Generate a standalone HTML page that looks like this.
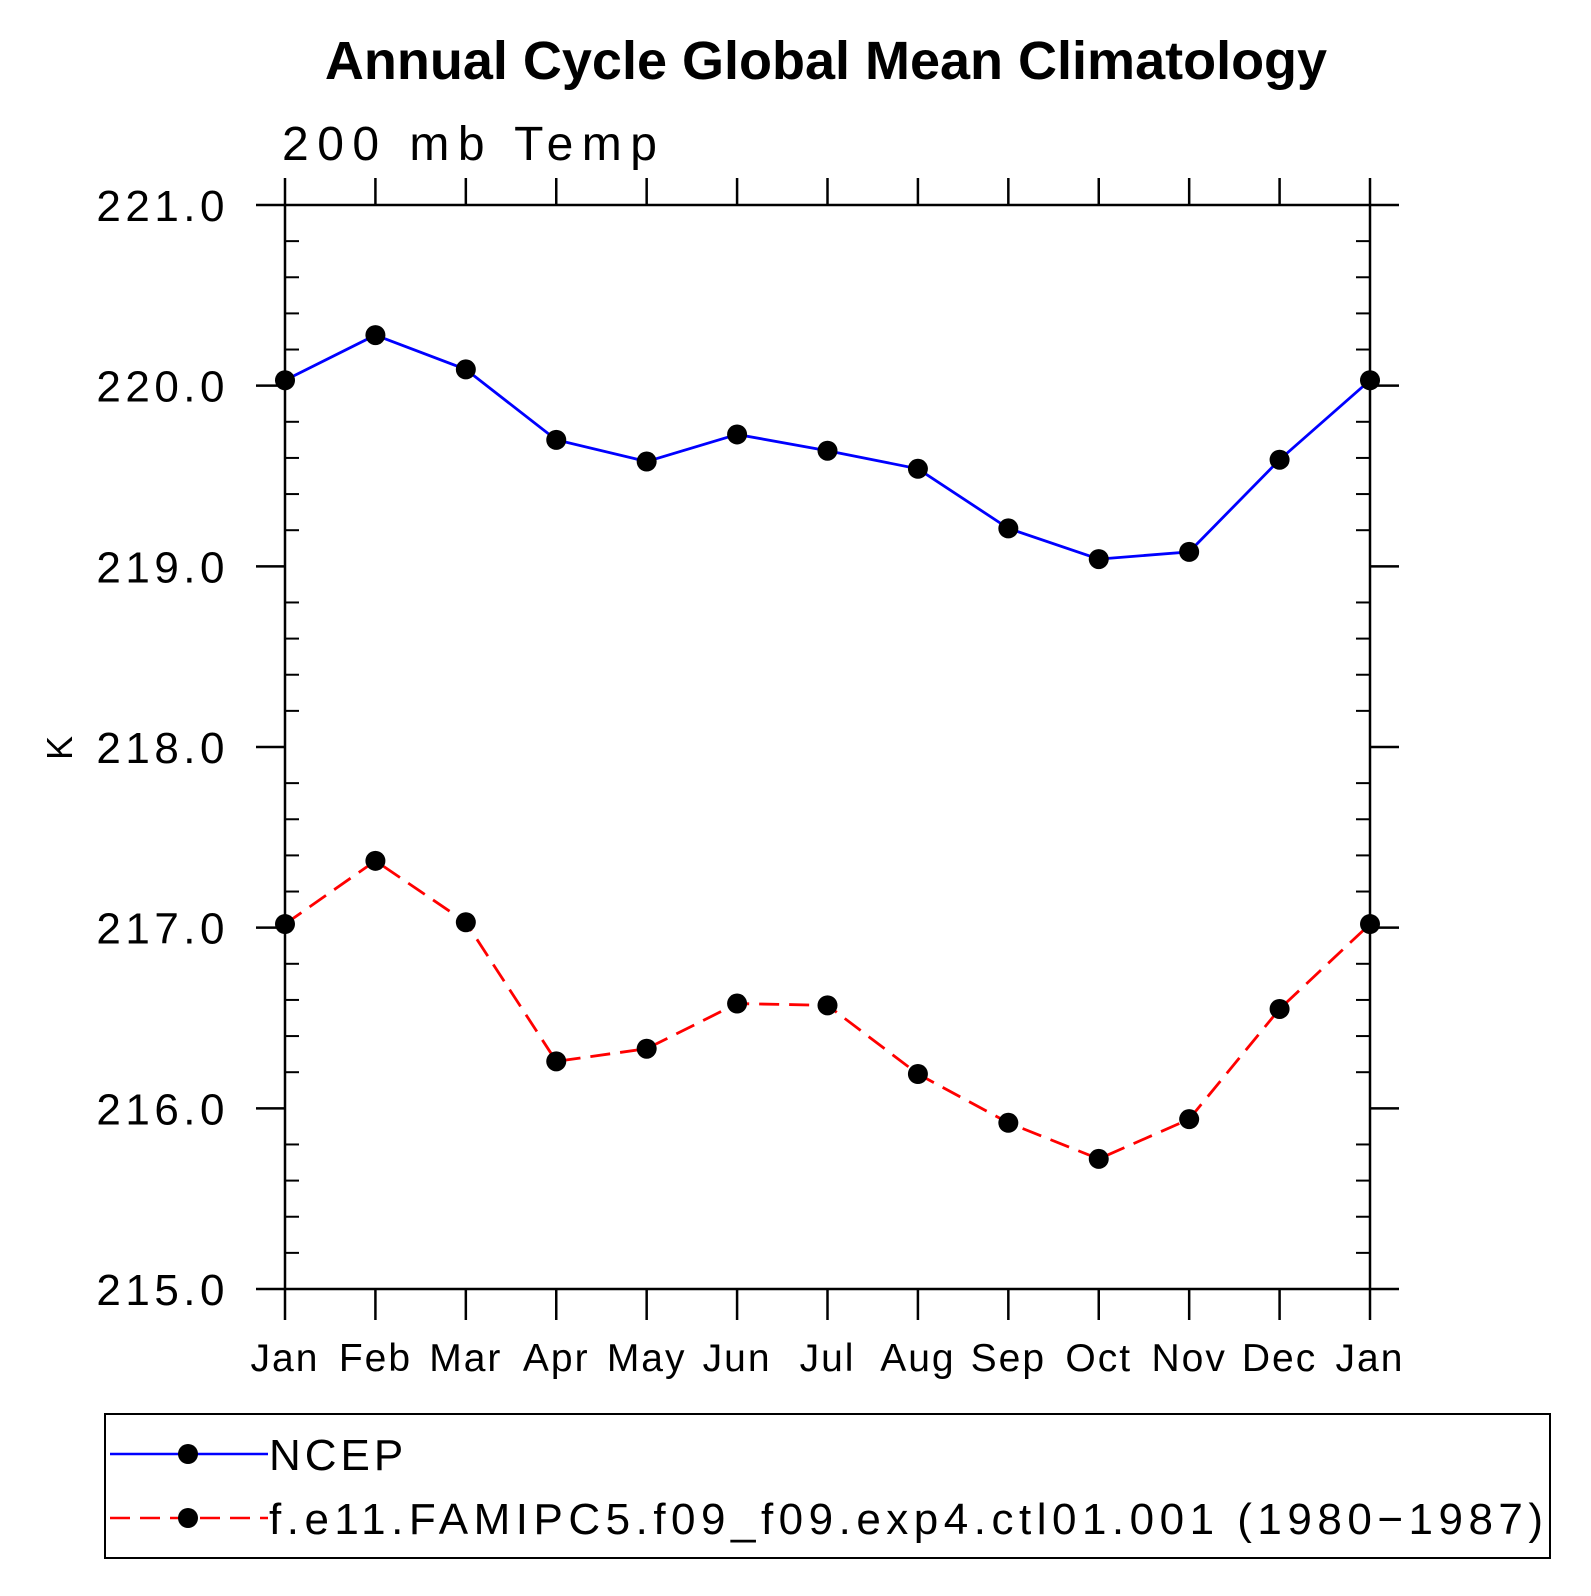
<!DOCTYPE html>
<html><head><meta charset="utf-8"><style>
body{margin:0;background:#fff}
svg text{font-family:"Liberation Sans",sans-serif}
</style></head><body>
<svg id="c" width="1591" height="1591" viewBox="0 0 1591 1591">
<text x="826" y="79" font-size="54" font-weight="bold" text-anchor="middle">Annual Cycle Global Mean Climatology</text>
<text x="282" y="160" font-size="48" style="letter-spacing:8.5px">200 mb Temp</text>
<text transform="translate(72,748) rotate(-90)" font-size="36" text-anchor="middle">K</text>
<g id="axes"></g>
<g id="series"></g>
<rect x="105" y="1414" width="1445" height="144" fill="none" stroke="#000" stroke-width="2"/>
<g>
<line x1="110" y1="1454" x2="268" y2="1454" stroke="#00f" stroke-width="2.5"/>
<circle cx="188" cy="1454" r="10" fill="#000"/>
<text x="269" y="1470" font-size="44" style="letter-spacing:4px">NCEP</text></g>
<g>
<line x1="110" y1="1518" x2="268" y2="1518" stroke="#f00" stroke-width="2.5" stroke-dasharray="20,10"/>
<circle cx="188" cy="1518" r="10" fill="#000"/>
<text x="269" y="1534" font-size="44" style="letter-spacing:5.5px">f.e11.FAMIPC5.f09_f09.exp4.ctl01.001 (1980−1987)</text></g>
</svg>
<script>
const months=["Jan","Feb","Mar","Apr","May","Jun","Jul","Aug","Sep","Oct","Nov","Dec","Jan"];
const ncep=[220.03,220.28,220.09,219.70,219.58,219.73,219.64,219.54,219.21,219.04,219.08,219.59,220.03];
const model=[217.02,217.37,217.03,216.26,216.33,216.58,216.57,216.19,215.92,215.72,215.94,216.55,217.02];
const yTicks=[215,216,217,218,219,220,221];
const yLabels=["215.0","216.0","217.0","218.0","219.0","220.0","221.0"];
const L=285,R=1370,T=205,B=1289,ymin=215,ymax=221;
const xs=i=>L+(R-L)*i/(months.length-1);
const ys=v=>B-(B-T)*(v-ymin)/(ymax-ymin);
const NS="http://www.w3.org/2000/svg";
const ax=document.getElementById('axes'),sg=document.getElementById('series');
function mk(t,a,p){const e=document.createElementNS(NS,t);for(const k in a)e.setAttribute(k,a[k]);(p||ax).appendChild(e);return e;}
const frame=mk('rect',{x:L,y:T,width:R-L,height:B-T,fill:'none',stroke:'#000','stroke-width':2.5});


months.forEach((m,i)=>{const x=xs(i);
 mk('line',{x1:x,y1:B,x2:x,y2:B+31,stroke:'#000','stroke-width':2.5});
 mk('line',{x1:x,y1:T,x2:x,y2:T-27,stroke:'#000','stroke-width':2.5});
 const t=mk('text',{x:x,y:1371,'font-size':39,'text-anchor':'middle','letter-spacing':2});t.textContent=m;
 
 });
yTicks.forEach((v,i)=>{const y=ys(v);
 mk('line',{x1:L-29,y1:y,x2:L,y2:y,stroke:'#000','stroke-width':2.5});
 mk('line',{x1:R,y1:y,x2:R+29,y2:y,stroke:'#000','stroke-width':2.5});
 const t=mk('text',{x:229,y:y+16,'font-size':44,'text-anchor':'end','letter-spacing':4.5});t.textContent=yLabels[i];
 
 });
for(let v=ymin;v<ymax-0.01;v+=0.2){if(Math.abs(v-Math.round(v))<0.01)continue;const y=ys(v);
 mk('line',{x1:L,y1:y,x2:L+14,y2:y,stroke:'#000','stroke-width':2});
 mk('line',{x1:R-14,y1:y,x2:R,y2:y,stroke:'#000','stroke-width':2});}
function series(d,col,dash,name){
 const pl=mk('polyline',{points:d.map((v,i)=>xs(i)+','+ys(v)).join(' '),fill:'none',stroke:col,'stroke-width':2.8,'stroke-dasharray':dash},sg);
 
 
 d.forEach((v,i)=>{const c=mk('circle',{cx:xs(i),cy:ys(v),r:10,fill:'#000'},sg);
  
  });}
series(ncep,'#00f','none','ncep');
series(model,'#f00','20,10','model');
</script>
</body></html>
